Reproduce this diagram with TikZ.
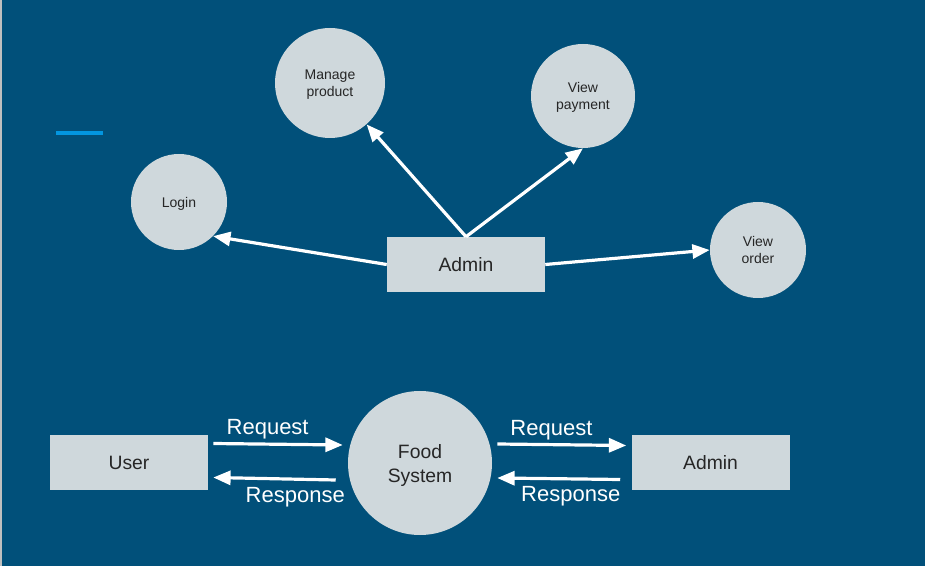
\documentclass[tikz,border=0pt]{standalone}
\usepackage{fontspec}
\setmainfont{Liberation Sans}
\usetikzlibrary{arrows.meta, positioning}
\definecolor{bgblue}{HTML}{01507A}
\definecolor{bubble}{HTML}{CFD8DC}
\definecolor{accent}{HTML}{0396E0}
\tikzset{>=latex}

\begin{document}
\begin{tikzpicture}[x=0.75pt, y=-0.75pt,
    process/.style={circle, fill=bubble, inner sep=0pt, text=black!85, align=center},
    small/.style={font=\fontsize{10.5}{12.75}\selectfont, text depth=-1.5pt},
    entity/.style={rectangle, fill=bubble, inner sep=0pt, text=black!85, minimum width=158*0.75pt, minimum height=55*0.75pt},
    flow/.style={draw=white, line width=2.4pt, -{Triangle[length=13pt, width=10.5pt]}},
    flowlabel/.style={text=white, font=\fontsize{16.5}{18}\selectfont, inner sep=1pt}]
    % Background
    \fill[bgblue] (0,0) rectangle (925,566);
    \fill[black!25] (0,0) rectangle (1.5,566);
    \draw[accent, line width=3pt] (56,133) -- (103,133);

    % Processes
    \node[process, small, minimum size=110*0.75pt] (manage) at (330,83) {Manage\\product};
    \node[process, small, minimum size=104*0.75pt] (payment) at (583,96) {View\\payment};
    \node[process, small, minimum size=96*0.75pt] (login) at (179,202) {Login};
    \node[process, small, minimum size=96*0.75pt] (order) at (758,250) {View\\order};
    % Admin
    \node[entity, font=\fontsize{14.5}{17}\selectfont] (admin) at (466,264.5) {Admin};

    % Lines
    \draw[flow] (admin.north) -- (manage);
    \draw[flow] (admin.north) -- (payment.south);
    \draw[flow] (admin.west) -- (login.-45);
    \draw[flow] (admin.east) -- (order.west);

    % Context level
    \node[process, minimum size=144*0.75pt, font=\fontsize{14.5}{18}\selectfont, text depth=-2pt] (food) at (420,463) {Food\\System};
    \node[entity, font=\fontsize{14.5}{17}\selectfont] (user) at (129,462.5) {User};
    \node[entity, font=\fontsize{14.5}{17}\selectfont] (admintwo) at (710.5,462.5) {Admin};

    % Requests and responses
    \draw[flow] ([shift={(5,-19)}]user.east) -- ([shift={(-5,-18)}]food.west)
        node[flowlabel, pos=0.42, above, yshift=1.5pt] (reqa) {Request};
    \draw[flow] ([shift={(-12,17)}]food.west) -- ([shift={(5,15)}]user.east)
        node[flowlabel, pos=0, anchor=north east, xshift=12*0.75pt, yshift=-3pt] (resa) {Response};
    \draw[flow] ([shift={(5,-19)}]food.east) -- ([shift={(-5,-17)}]admintwo.west)
        node[flowlabel, pos=0.42, above, yshift=1.5pt] (reqb) {Request};
    \draw[flow] ([shift={(-11,17)}]admintwo.west) -- ([shift={(5,15)}]food.east)
        node[flowlabel, pos=0, anchor=north east, xshift=3*0.75pt, yshift=-3pt] (resb) {Response};
\end{tikzpicture}
\end{document}
